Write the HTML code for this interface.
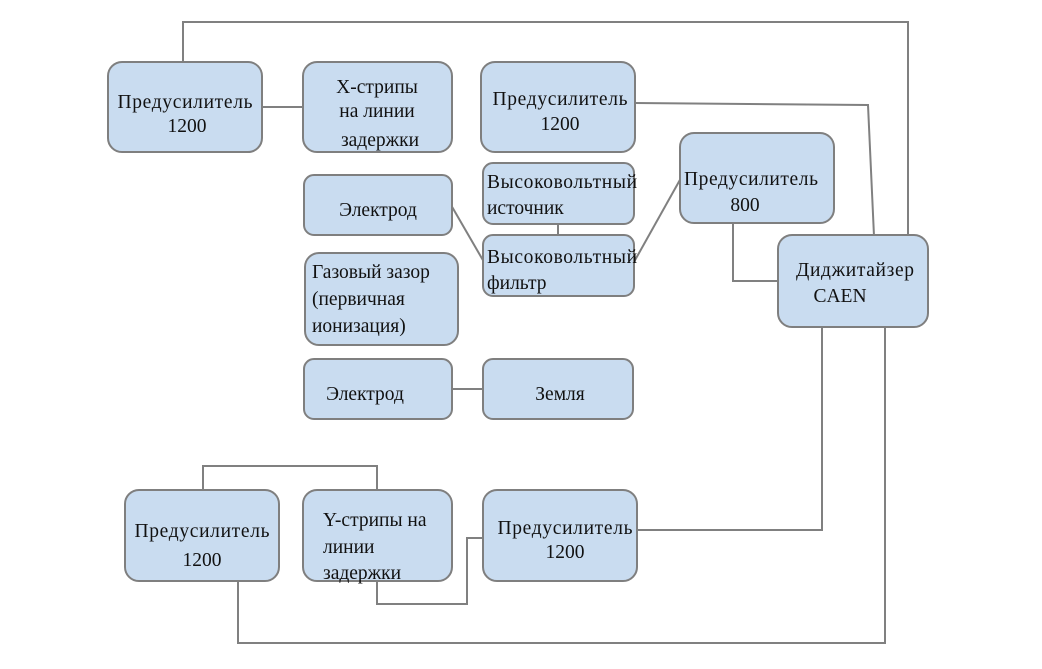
<!DOCTYPE html>
<html><head><meta charset="utf-8"><style>
html,body{margin:0;padding:0;background:#fff;}
svg{display:block}
text{font-family:"Liberation Serif","DejaVu Serif",serif;font-size:19.5px;fill:#111;}
rect{fill:#c9dcf0;stroke:#7f7f7f;stroke-width:2;}
line,polyline{stroke:#808080;stroke-width:2;fill:none;}
</style></head><body>
<svg width="1042" height="669" viewBox="0 0 1042 669" xmlns="http://www.w3.org/2000/svg">
<polyline points="183,62 183,22 908,22 908,236"/>
<line x1="262" y1="107" x2="303" y2="107"/>
<polyline points="635,103 868,105 874,236"/>
<line x1="451" y1="205" x2="484" y2="262"/>
<line x1="558" y1="224" x2="558" y2="236"/>
<line x1="634" y1="262" x2="681" y2="178"/>
<polyline points="733,223 733,281 779,281"/>
<line x1="452" y1="389" x2="484" y2="389"/>
<polyline points="822,327 822,530 637,530"/>
<polyline points="885,327 885,643 238,643 238,581"/>
<polyline points="203,490 203,466 377,466 377,490"/>
<polyline points="377,581 377,604 467,604 467,538 483,538"/>

<rect x="108" y="62" width="154" height="90" rx="14"/>
<rect x="303" y="62" width="149" height="90" rx="14"/>
<rect x="481" y="62" width="154" height="90" rx="14"/>
<rect x="680" y="133" width="154" height="90" rx="14"/>
<rect x="483" y="163" width="151" height="61" rx="10"/>
<rect x="483" y="235" width="151" height="61" rx="10"/>
<rect x="304" y="175" width="148" height="60" rx="10"/>
<rect x="305" y="253" width="153" height="92" rx="14"/>
<rect x="304" y="359" width="148" height="60" rx="10"/>
<rect x="483" y="359" width="150" height="60" rx="10"/>
<rect x="778" y="235" width="150" height="92" rx="14"/>
<rect x="125" y="490" width="154" height="91" rx="14"/>
<rect x="303" y="490" width="149" height="91" rx="14"/>
<rect x="483" y="490" width="154" height="91" rx="14"/>

<g textLength="0">
<text x="185" y="108" text-anchor="middle" textLength="135">Предусилитель</text>
<text x="187" y="132" text-anchor="middle">1200</text>
<text x="377" y="93" text-anchor="middle">X-стрипы</text>
<text x="377" y="117" text-anchor="middle">на линии</text>
<text x="380" y="146" text-anchor="middle">задержки</text>
<text x="560" y="105" text-anchor="middle" textLength="135">Предусилитель</text>
<text x="560" y="130" text-anchor="middle">1200</text>
<text x="684" y="185" textLength="134">Предусилитель</text>
<text x="745" y="211" text-anchor="middle">800</text>
<text x="487" y="188" textLength="150">Высоковольтный</text>
<text x="487" y="214">источник</text>
<text x="487" y="263" textLength="150">Высоковольтный</text>
<text x="487" y="289">фильтр</text>
<text x="378" y="216" text-anchor="middle">Электрод</text>
<text x="312" y="278">Газовый зазор</text>
<text x="312" y="305">(первичная</text>
<text x="312" y="332">ионизация)</text>
<text x="365" y="400" text-anchor="middle">Электрод</text>
<text x="560" y="400" text-anchor="middle">Земля</text>
<text x="855" y="276" text-anchor="middle" textLength="118">Диджитайзер</text>
<text x="840" y="302" text-anchor="middle">CAEN</text>
<text x="202" y="537" text-anchor="middle" textLength="135">Предусилитель</text>
<text x="202" y="566" text-anchor="middle">1200</text>
<text x="323" y="526">Y-стрипы на</text>
<text x="323" y="553">линии</text>
<text x="323" y="579">задержки</text>
<text x="565" y="534" text-anchor="middle" textLength="135">Предусилитель</text>
<text x="565" y="558" text-anchor="middle">1200</text>
</g>
</svg>
</body></html>
